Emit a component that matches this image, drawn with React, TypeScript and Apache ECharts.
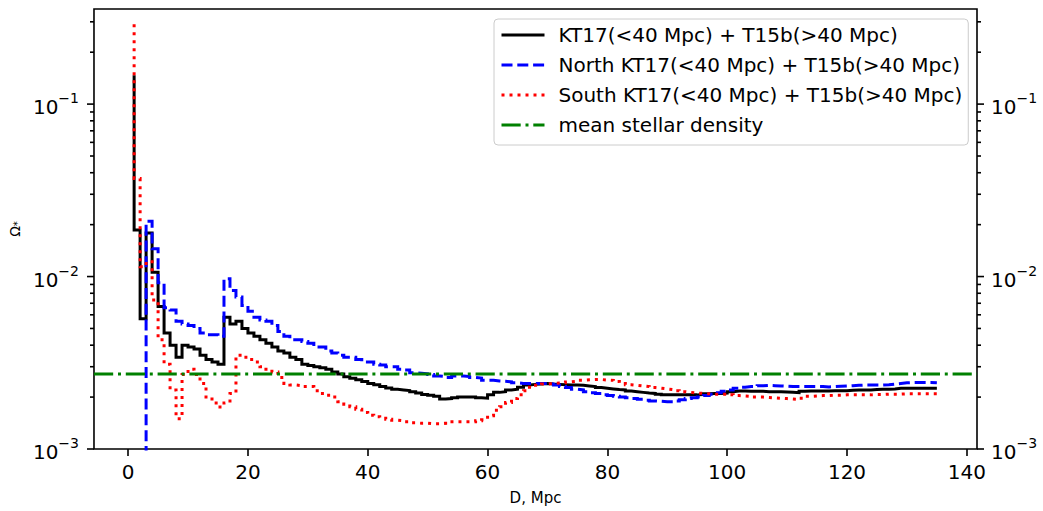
import React, { useEffect, useRef } from "react";
import * as echarts from "echarts";

// Distance bins, Mpc
const D_MPC = [
  1, 2, 3, 4, 5, 6, 7, 8, 9, 10, 11, 12, 13, 14, 15, 16, 17, 18, 19, 20,
  21, 22, 23, 24, 25, 26, 27, 28, 29, 30, 31, 32, 33, 34, 35, 36, 37, 38, 39, 40,
  41, 42, 43, 44, 45, 46, 47, 48, 49, 50, 51, 52, 53, 54, 55, 56, 57, 58, 59, 60,
  61, 62, 63, 64, 65, 66, 67, 68, 69, 70, 71, 72, 73, 74, 75, 76, 77, 78, 79, 80,
  81, 82, 83, 84, 85, 86, 87, 88, 89, 90, 91, 92, 93, 94, 95, 96, 97, 98, 99, 100,
  101, 102, 103, 104, 105, 106, 107, 108, 109, 110, 111, 112, 113, 114, 115, 116, 117, 118, 119, 120,
  121, 122, 123, 124, 125, 126, 127, 128, 129, 130, 131, 132, 133, 134, 135,
];

// KT17(<40 Mpc) + T15b(>40 Mpc)
const OMEGA_ALL = [
  0.147, 0.0186, 0.0057, 0.0179, 0.0106, 0.0067, 0.0047, 0.004, 0.0034, 0.004,
  0.0039, 0.0038, 0.0035, 0.0033, 0.0032, 0.0031, 0.0058, 0.0053, 0.0055, 0.005,
  0.0047, 0.0045, 0.0043, 0.0041, 0.0039, 0.0037, 0.0036, 0.0034, 0.0033, 0.0031,
  0.00305, 0.003, 0.00296, 0.0029, 0.0028, 0.00272, 0.00262, 0.00257, 0.00252, 0.00246,
  0.0024, 0.00236, 0.0023, 0.00226, 0.00222, 0.0022, 0.00218, 0.00215, 0.00211, 0.00207,
  0.00205, 0.00202, 0.00195, 0.00196, 0.00198, 0.002, 0.002, 0.002, 0.00198, 0.00197,
  0.00206, 0.00213, 0.00215, 0.0022, 0.00222, 0.00228, 0.00235, 0.00237, 0.00238, 0.0024,
  0.00238, 0.00237, 0.00236, 0.00235, 0.00235, 0.00234, 0.00232, 0.0023, 0.00227, 0.00225,
  0.00223, 0.00221, 0.0022, 0.00217, 0.00215, 0.00213, 0.00211, 0.0021, 0.00208, 0.00206,
  0.00206, 0.00206, 0.00206, 0.00206, 0.00206, 0.00207, 0.00209, 0.0021, 0.0021, 0.00211,
  0.00215, 0.00217, 0.00217, 0.00216, 0.00216, 0.00216, 0.00215, 0.00215, 0.00215, 0.00214,
  0.00213, 0.00212, 0.00216, 0.00217, 0.00217, 0.00217, 0.00217, 0.00218, 0.00218, 0.00218,
  0.00219, 0.0022, 0.0022, 0.0022, 0.00221, 0.00222, 0.00222, 0.00223, 0.00225, 0.00225,
  0.00225, 0.00225, 0.00225, 0.00225, 0.00225,
];

// North KT17(<40 Mpc) + T15b(>40 Mpc)  (0 = empty bin)
const OMEGA_NORTH = [
  0, 0, 0, 0.0209, 0.0145, 0.0092, 0.0066, 0.0064, 0.0055, 0.0053,
  0.0052, 0.005, 0.0047, 0.0046, 0.0046, 0.0045, 0.0097, 0.0083, 0.0076, 0.0068,
  0.0063, 0.0058, 0.0056, 0.0055, 0.0052, 0.0048, 0.0045, 0.0043, 0.0043, 0.0042,
  0.0041, 0.0039, 0.0039, 0.0037, 0.0036, 0.0035, 0.0034, 0.0034, 0.0033, 0.0032,
  0.0032, 0.0031, 0.00307, 0.003, 0.003, 0.0029, 0.00287, 0.00277, 0.00275, 0.00273,
  0.0027, 0.00265, 0.00263, 0.0026, 0.00265, 0.00265, 0.00263, 0.0026, 0.00258, 0.0025,
  0.0025, 0.00248, 0.00247, 0.00245, 0.00242, 0.0024, 0.0024, 0.0024, 0.0024, 0.0024,
  0.00238, 0.00235, 0.0023, 0.00227, 0.00222, 0.0022, 0.00215, 0.00212, 0.0021, 0.00206,
  0.00204, 0.00202, 0.002, 0.00198, 0.00196, 0.00194, 0.00192, 0.0019, 0.00189, 0.00188,
  0.00188, 0.0019, 0.00193, 0.00196, 0.00198, 0.002, 0.00204, 0.00208, 0.00212, 0.00216,
  0.0022, 0.00225, 0.00228, 0.0023, 0.0023, 0.00233, 0.00234, 0.00233, 0.00232, 0.00231,
  0.0023, 0.0023, 0.0023, 0.0023, 0.0023, 0.0023, 0.00229, 0.0023, 0.00231, 0.00232,
  0.00233, 0.00234, 0.00235, 0.00235, 0.00235, 0.00235, 0.00236, 0.00238, 0.0024, 0.00242,
  0.00243, 0.00243, 0.00243, 0.00243, 0.00242,
];

// South KT17(<40 Mpc) + T15b(>40 Mpc)
const OMEGA_SOUTH = [
  0.29, 0.037, 0.0114, 0.0122, 0.0073, 0.0043, 0.0031, 0.0022, 0.0015, 0.0027,
  0.0029, 0.0027, 0.0024, 0.002, 0.00185, 0.00175, 0.00185, 0.0021, 0.0035, 0.0034,
  0.0033, 0.0032, 0.003, 0.0029, 0.0028, 0.0026, 0.0024, 0.00235, 0.00233, 0.0023,
  0.0023, 0.00218, 0.0021, 0.00205, 0.002, 0.00188, 0.00182, 0.00176, 0.0017, 0.00163,
  0.00157, 0.00154, 0.00151, 0.00149, 0.00147, 0.00146, 0.00144, 0.00142, 0.00141, 0.00141,
  0.0014, 0.0014, 0.00141, 0.00144, 0.00144, 0.00144, 0.00144, 0.00144, 0.00146, 0.00148,
  0.00156, 0.00168, 0.00176, 0.00186, 0.00196, 0.00206, 0.00218, 0.00228, 0.00234, 0.00238,
  0.0024, 0.00241, 0.00242, 0.00245, 0.00247, 0.0025, 0.00252, 0.00253, 0.00253, 0.00251,
  0.0025, 0.00246, 0.0024, 0.00236, 0.00234, 0.00232, 0.0023, 0.00227, 0.00225, 0.00223,
  0.00221, 0.00218, 0.00215, 0.00213, 0.00211, 0.0021, 0.00209, 0.00208, 0.00208, 0.00208,
  0.00206, 0.00204, 0.00203, 0.00202, 0.002, 0.002, 0.00199, 0.00198, 0.00197, 0.00196,
  0.00195, 0.00194, 0.00197, 0.00202, 0.00203, 0.00204, 0.00204, 0.00205, 0.00205, 0.00206,
  0.00206, 0.00206, 0.00206, 0.00206, 0.00207, 0.00207, 0.00208, 0.00208, 0.00208, 0.00209,
  0.00209, 0.00209, 0.00209, 0.00209, 0.00209,
];

const MEAN_STELLAR_DENSITY = 0.00272;

const SERIES_NAMES = [
  "KT17(<40 Mpc) + T15b(>40 Mpc)",
  "North KT17(<40 Mpc) + T15b(>40 Mpc)",
  "South KT17(<40 Mpc) + T15b(>40 Mpc)",
  "mean stellar density",
];

const X_MIN = -5.7;
const X_MAX = 141.7;
const Y_MIN = 0.001;
const Y_MAX = 0.356;
const X_TICKS = [0, 20, 40, 60, 80, 100, 120, 140];
const Y_MAJOR_TICKS = [0.001, 0.01, 0.1];
const Y_MINOR_TICKS = [
  0.002, 0.003, 0.004, 0.005, 0.006, 0.007, 0.008, 0.009,
  0.02, 0.03, 0.04, 0.05, 0.06, 0.07, 0.08, 0.09,
  0.2, 0.3,
];

const FONT = "DejaVu Sans";
const LW = 3;
// matplotlib log-scale clipping of non-positive values
const LOG_FLOOR = 1e-6;

function toPairs(vals: number[]) {
  return D_MPC.map((d, i) => [d, vals[i] > 0 ? vals[i] : LOG_FLOOR]);
}

function powLabel(v: number) {
  const e = Math.log10(v);
  const r = Math.round(e);
  if (Math.abs(e - r) > 1e-6) return "";
  const exp = r < 0 ? "\u2212" + -r : String(r);
  return "{b|10}{s|" + exp + "}";
}

const labelRich = {
  b: { fontFamily: FONT, fontSize: 20, color: "#000", lineHeight: 26, verticalAlign: "bottom" },
  s: { fontFamily: FONT, fontSize: 14, color: "#000", lineHeight: 14, verticalAlign: "top" },
};

export default function App() {
  const ref = useRef<HTMLDivElement>(null);

  useEffect(() => {
    if (!ref.current) return;
    const chart = echarts.init(ref.current, undefined, { renderer: "svg" });

    const tickData = [
      ...Y_MAJOR_TICKS.map((v) => [X_MIN, v, 1]),
      ...Y_MINOR_TICKS.map((v) => [X_MIN, v, 0]),
    ];

    const option: any = {
      animation: false,
      backgroundColor: "#ffffff",
      grid: {
        left: 92,
        top: 9,
        width: 885,
        height: 440,
        show: true,
        borderColor: "#000",
        borderWidth: 1.6,
        backgroundColor: "transparent",
        containLabel: false,
      },
      legend: {
        data: SERIES_NAMES,
        orient: "vertical",
        left: 494,
        top: 19,
        padding: [6, 6, 10, 6],
        itemGap: 10,
        itemWidth: 43,
        itemHeight: 20,
        backgroundColor: "rgba(255,255,255,0.8)",
        borderColor: "#cccccc",
        borderWidth: 1,
        borderRadius: 4,
        lineStyle: { width: LW },
        itemStyle: { color: "rgba(0,0,0,0)", borderWidth: 0, opacity: 0 },
        textStyle: {
          fontFamily: FONT,
          fontSize: 20,
          color: "#000",
          lineHeight: 20,
          padding: [0, 0, 0, 9],
        },
      },
      xAxis: {
        type: "value",
        min: X_MIN,
        max: X_MAX,
        axisLine: { show: false, onZero: false },
        axisTick: {
          show: true,
          length: 7,
          lineStyle: { color: "#000", width: 1.6 },
          customValues: X_TICKS,
        },
        axisLabel: {
          customValues: X_TICKS,
          fontFamily: FONT,
          fontSize: 20,
          color: "#000",
          margin: 13,
        },
        splitLine: { show: false },
        name: "D, Mpc",
        nameLocation: "middle",
        nameGap: 41,
        nameTextStyle: { fontFamily: FONT, fontSize: 15, color: "#000" },
      },
      yAxis: [
        {
          type: "log",
          logBase: 10,
          min: Y_MIN,
          max: Y_MAX,
          position: "left",
          axisLine: { show: false },
          axisTick: { show: false },
          splitLine: { show: false },
          axisLabel: {
            fontFamily: FONT,
            fontSize: 20,
            color: "#000",
            margin: 15,
            showMaxLabel: false,
            formatter: powLabel,
            rich: labelRich,
          },
          name: "{o|\u03A9}{u|*}",
          nameLocation: "middle",
          nameRotate: 90,
          nameGap: 66,
          nameTextStyle: {
            rich: {
              o: { fontFamily: FONT, fontSize: 14, color: "#000" },
              u: { fontFamily: FONT, fontSize: 10, color: "#000", verticalAlign: "bottom" },
            },
          },
        },
        {
          type: "log",
          logBase: 10,
          min: Y_MIN,
          max: Y_MAX,
          position: "right",
          axisLine: { show: false },
          axisTick: { show: false },
          splitLine: { show: false },
          axisLabel: {
            fontFamily: FONT,
            fontSize: 20,
            color: "#000",
            margin: 14,
            showMaxLabel: false,
            formatter: powLabel,
            rich: labelRich,
          },
        },
      ],
      series: [
        {
          type: "line",
          name: SERIES_NAMES[0],
          data: toPairs(OMEGA_ALL),
          step: "start",
          symbol: "none",
          showSymbol: false,
          clip: true,
          lineStyle: { color: "#000000", width: LW, type: "solid", join: "miter", cap: "butt" },
          itemStyle: { color: "#000000" },
          z: 2,
        },
        {
          type: "line",
          name: SERIES_NAMES[1],
          data: toPairs(OMEGA_NORTH),
          step: "start",
          symbol: "none",
          showSymbol: false,
          clip: true,
          lineStyle: { color: "#0000ff", width: LW, type: [11, 4.8], join: "miter", cap: "butt" },
          itemStyle: { color: "#0000ff" },
          z: 3,
        },
        {
          type: "line",
          name: SERIES_NAMES[2],
          data: toPairs(OMEGA_SOUTH),
          step: "start",
          symbol: "none",
          showSymbol: false,
          clip: true,
          lineStyle: { color: "#ff0000", width: LW, type: [3, 5], join: "miter", cap: "butt" },
          itemStyle: { color: "#ff0000" },
          z: 4,
        },
        {
          type: "line",
          name: SERIES_NAMES[3],
          data: [
            [X_MIN, MEAN_STELLAR_DENSITY],
            [X_MAX, MEAN_STELLAR_DENSITY],
          ],
          symbol: "none",
          showSymbol: false,
          clip: true,
          lineStyle: { color: "#008000", width: LW, type: [19.2, 4.8, 3, 4.8], cap: "butt" },
          itemStyle: { color: "#008000" },
          z: 5,
        },
        {
          type: "custom",
          name: "yticks",
          silent: true,
          clip: false,
          xAxisIndex: 0,
          yAxisIndex: 0,
          encode: { x: 0, y: 1 },
          data: tickData,
          z: 6,
          renderItem: (params: any, api: any) => {
            const v = api.value(1);
            const major = api.value(2) === 1;
            const len = major ? 7 : 4;
            const l = api.coord([X_MIN, v]);
            const r = api.coord([X_MAX, v]);
            const style = { stroke: "#000", lineWidth: 1.6 };
            return {
              type: "group",
              children: [
                { type: "line", shape: { x1: l[0] - len, y1: l[1], x2: l[0], y2: l[1] }, style },
                { type: "line", shape: { x1: r[0], y1: r[1], x2: r[0] + len, y2: r[1] }, style },
              ],
            };
          },
        },
      ],
    };

    chart.setOption(option);
    return () => chart.dispose();
  }, []);

  return (
    <div
      ref={ref}
      style={{ position: "absolute", left: 0, top: 0, width: 1043, height: 511, background: "#fff" }}
    />
  );
}
